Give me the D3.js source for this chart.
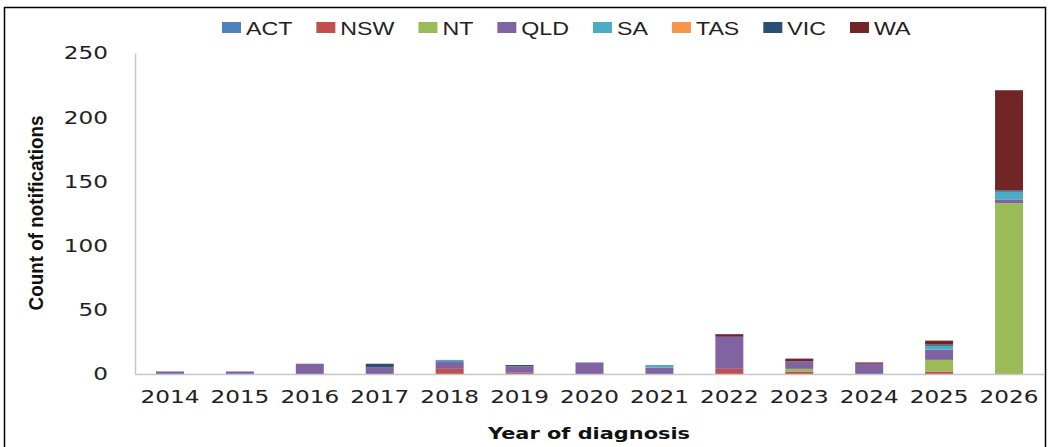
<!DOCTYPE html>
<html><head><meta charset="utf-8">
<script src="https://cdn.jsdelivr.net/npm/d3@7"></script>
<style>body{margin:0;background:#fff;}svg{display:block;}</style>
</head><body>
<svg id="chart" width="1050" height="447"></svg>
<script>
const years = ["2014","2015","2016","2017","2018","2019","2020","2021","2022","2023","2024","2025","2026"];
const seriesNames = ["ACT","NSW","NT","QLD","SA","TAS","VIC","WA"];
const ACT = [0,0,0,0,0,0,0,0,0,0,0,0,0];
const NSW = [0,0,0,0,4,1,0,0,4,2,0,2,0];
const NT  = [0,0,0,0,0,0,0,0,0,2,0,9,133];
const QLD = [2,2,8,5,6,5,9,5,25,6,8,8,3];
const SA  = [0,0,0,0,1,0,0,2,0,0,0,3,6];
const TAS = [0,0,0,0,0,0,0,0,0,0,0,0,0];
const VIC = [0,0,0,3,0,1,0,0,0,0,0,1,1];
const WA  = [0,0,0,0,0,0,0,0,2,2,1,3,78];
const yTicks = [0,50,100,150,200,250];
const colors = ["#4F81BD","#C0504D","#9BBB59","#8064A2","#4BACC6","#F79646","#2C4D75","#722525"];

const seriesValues = [ACT,NSW,NT,QLD,SA,TAS,VIC,WA];
const table = years.map((y,i)=>{const o={year:y}; seriesNames.forEach((s,j)=>o[s]=seriesValues[j][i]); return o;});

const svg = d3.select("#chart");
const SX = 1.25;
function stretch(sel, f){ sel.each(function(){ const w=this.getComputedTextLength(); this.setAttribute("textLength", w*f); this.setAttribute("lengthAdjust","spacingAndGlyphs");}); }

// frame
svg.append("rect").attr("x",4.5).attr("y",7.5).attr("width",1041).attr("height",460)
  .attr("fill","none").attr("stroke","#000").attr("stroke-width",1.5);

const x = d3.scaleBand().domain(years).range([135,1044]).paddingInner(0.6).paddingOuter(0.3);
const y = d3.scaleLinear().domain([0,250]).range([374,53]);

const stack = d3.stack().keys(seriesNames)(table);

// bars
svg.append("g").selectAll("g").data(stack).join("g")
  .attr("fill",(d,i)=>colors[i])
  .selectAll("rect").data(d=>d).join("rect")
  .attr("x",d=>x(d.data.year)).attr("width",x.bandwidth())
  .attr("y",d=>y(d[1])).attr("height",d=>Math.max(0,y(d[0])-y(d[1])));

// y axis
const yAxis = svg.append("g").attr("transform","translate(135,0)")
  .call(d3.axisLeft(y).tickValues(yTicks).tickSize(0).tickPadding(27));
yAxis.select(".domain").attr("stroke","#C8C8C8").attr("stroke-width",1.5);
yAxis.selectAll("text").attr("font-family","DejaVu Sans").attr("font-size",18.5).attr("fill","#222").call(stretch,SX);

// x axis
const xAxis = svg.append("g").attr("transform","translate(0,374)")
  .call(d3.axisBottom(x).tickSize(0).tickPadding(16));
xAxis.select(".domain").attr("stroke","#C8C8C8").attr("stroke-width",1.5);
xAxis.selectAll("text").attr("font-family","DejaVu Sans").attr("font-size",18.5).attr("fill","#222").call(stretch,SX);

// axis titles
svg.append("text").attr("x",589).attr("y",439).attr("text-anchor","middle")
  .attr("font-family","DejaVu Sans").attr("font-weight","bold").attr("font-size",16).attr("fill","#111")
  .text("Year of diagnosis").attr("textLength",202).attr("lengthAdjust","spacingAndGlyphs");
svg.append("text").attr("transform","translate(43,213) rotate(-90)").attr("text-anchor","middle")
  .attr("font-family","Liberation Sans").attr("font-weight","bold").attr("font-size",20).attr("fill","#111")
  .text("Count of notifications").attr("textLength",195).attr("lengthAdjust","spacingAndGlyphs");

// legend
const lg = svg.append("g");
let lx = 222;
seriesNames.forEach((s,i)=>{
  lg.append("rect").attr("x",lx).attr("y",22).attr("width",19).attr("height",11).attr("fill",colors[i]);
  const t = lg.append("text").attr("x",lx+24).attr("y",35)
    .attr("font-family","Liberation Sans").attr("font-size",19).attr("fill","#222").text(s);
  const w = t.node().getComputedTextLength()*1.22;
  t.attr("textLength",w).attr("lengthAdjust","spacingAndGlyphs");
  lx += 24 + w + 24;
});
</script>
</body></html>
